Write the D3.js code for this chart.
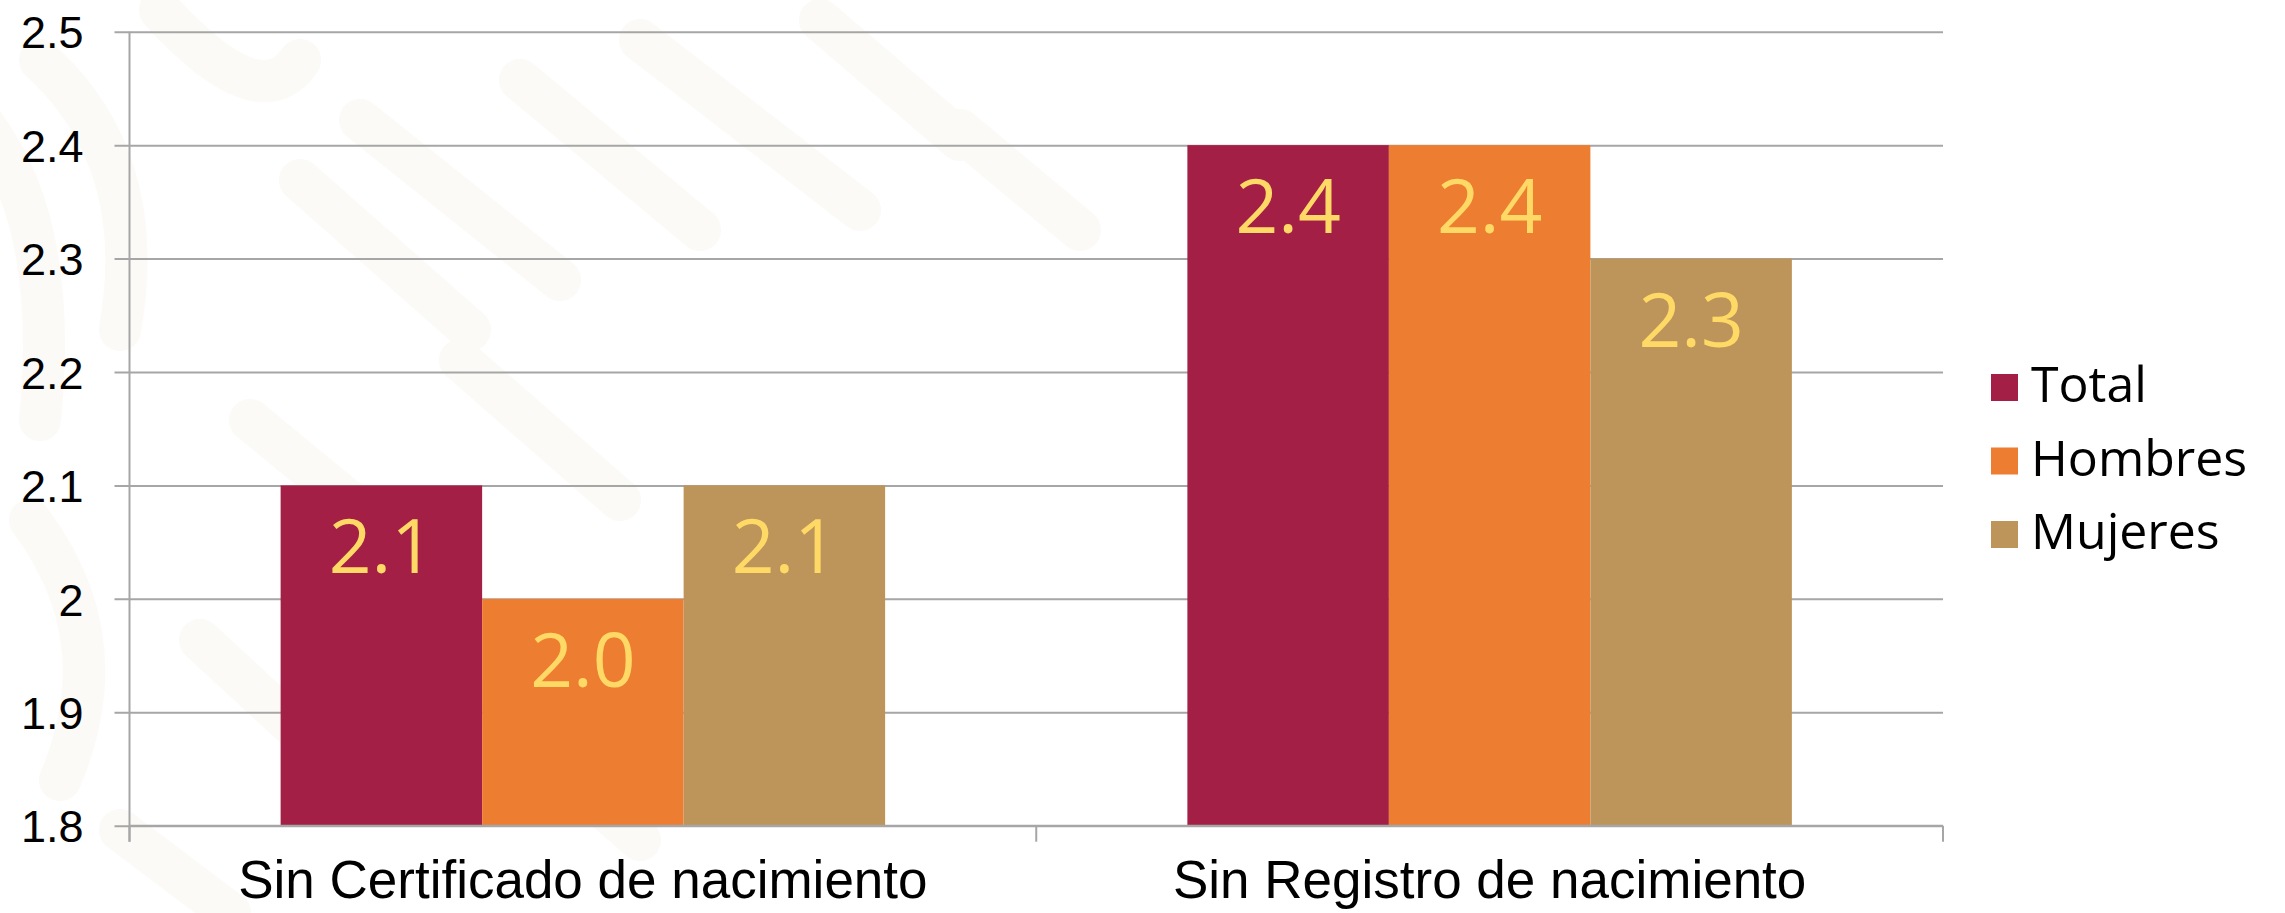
<!DOCTYPE html>
<html>
<head>
<meta charset="utf-8">
<script src="https://cdn.jsdelivr.net/npm/d3@7"></script>
<style>
  html, body { margin: 0; padding: 0; background: #fff; }
  svg { display: block; font-family: "Open Sans", sans-serif; }
</style>
</head>
<body>
<svg id="chart"></svg>
<script>
let width = 2285;
let height = 913;

// data
let categories = ['Sin Certificado de nacimiento', 'Sin Registro de nacimiento'];
let seriesNames = ['Total', 'Hombres', 'Mujeres'];
let totalValues = [2.1, 2.4];
let hombresValues = [2.0, 2.4];
let mujeresValues = [2.1, 2.3];
let yTicks = [1.8, 1.9, 2.0, 2.1, 2.2, 2.3, 2.4, 2.5];

let colors = ['#A31F45', '#ED7D31', '#BD955A'];
let labelColor = '#FFD966';
let gridColor = '#A6A6A6';

let plot = { left: 129.5, right: 1943, top: 31.7, bottom: 825.7 };

let svg = d3.select('#chart')
  .attr('width', width)
  .attr('height', height);

// faint watermark shapes in the background
let wm = svg.append('g').attr('fill', 'none').attr('stroke', '#f3ead9')
  .attr('stroke-linecap', 'round').attr('opacity', 0.22);
let strokes = [
  'M-20,120 Q60,220 40,420', 'M40,60 Q150,160 120,330', 'M160,10 Q260,120 300,60',
  'M300,180 L470,330', 'M360,120 L560,280', 'M520,80 L700,230', 'M640,40 L860,210',
  'M250,420 L420,560', 'M460,360 L620,500', 'M30,520 Q120,640 60,780',
  'M200,640 L330,760', 'M480,700 L640,840', 'M120,830 L230,913', 'M820,20 L960,140',
  'M960,130 L1080,230'
];
wm.selectAll('path').data(strokes).enter().append('path')
  .attr('d', d => d)
  .attr('stroke-width', 42);

let data = categories.map((c, i) => ({
  category: c,
  values: [totalValues[i], hombresValues[i], mujeresValues[i]]
}));

let x0 = d3.scaleBand()
  .domain(categories)
  .range([plot.left, plot.right])
  .padding(0);

let x1 = d3.scaleBand()
  .domain(seriesNames)
  .range([0, x0.bandwidth()])
  .paddingInner(0)
  .paddingOuter(0.75);

let y = d3.scaleLinear()
  .domain([1.8, 2.5])
  .range([plot.bottom, plot.top]);

// gridlines + y tick labels
let yAxis = d3.axisLeft(y)
  .tickValues(yTicks)
  .tickFormat(d => String(+d.toFixed(1)))
  .tickSize(-(plot.right - plot.left + 15))
  .tickPadding(31);

let yg = svg.append('g')
  .attr('transform', `translate(${plot.left - 15},0)`)
  .call(yAxis);
yg.select('.domain').remove();
yg.selectAll('.tick line')
  .attr('stroke', gridColor)
  .attr('stroke-width', 2);
yg.selectAll('.tick text')
  .attr('fill', '#000')
  .style('font-size', '45px')
  .attr('dy', '0.36em');

// bars
let groups = svg.append('g')
  .selectAll('g')
  .data(data)
  .enter()
  .append('g')
  .attr('transform', d => `translate(${x0(d.category)},0)`);

groups.selectAll('rect')
  .data(d => d.values.map((v, i) => ({ key: seriesNames[i], value: v, i })))
  .enter()
  .append('rect')
  .attr('x', d => x1(d.key))
  .attr('y', d => y(d.value))
  .attr('width', x1.bandwidth())
  .attr('height', d => y(1.8) - y(d.value))
  .attr('fill', d => colors[d.i]);

groups.selectAll('text')
  .data(d => d.values.map((v, i) => ({ key: seriesNames[i], value: v, i })))
  .enter()
  .append('text')
  .attr('x', d => x1(d.key) + x1.bandwidth() / 2)
  .attr('y', d => y(d.value) + 88)
  .attr('text-anchor', 'middle')
  .attr('fill', labelColor)
  .style('font-size', '75px')
  .text(d => d.value.toFixed(1));

// axes lines
svg.append('line')
  .attr('x1', plot.left).attr('x2', plot.left)
  .attr('y1', plot.top).attr('y2', plot.bottom + 16)
  .attr('stroke', gridColor).attr('stroke-width', 2);

svg.append('line')
  .attr('x1', plot.left).attr('x2', plot.right)
  .attr('y1', plot.bottom).attr('y2', plot.bottom)
  .attr('stroke', gridColor).attr('stroke-width', 2);

// category boundary ticks
let bounds = categories.map(c => x0(c)).concat([plot.right]);
svg.append('g')
  .selectAll('line')
  .data(bounds)
  .enter()
  .append('line')
  .attr('x1', d => d).attr('x2', d => d)
  .attr('y1', plot.bottom).attr('y2', plot.bottom + 16)
  .attr('stroke', gridColor).attr('stroke-width', 2);

// category labels
let xAxis = d3.axisBottom(x0).tickSize(0).tickPadding(0);
let xg = svg.append('g')
  .attr('transform', `translate(0,${plot.bottom})`)
  .call(xAxis);
xg.select('.domain').remove();
xg.selectAll('.tick text')
  .attr('fill', '#000')
  .attr('y', 72)
  .attr('dy', 0)
  .style('font-size', '53px');

// legend
let legend = svg.append('g')
  .attr('transform', 'translate(1991,374)');

let items = legend.selectAll('g')
  .data(seriesNames)
  .enter()
  .append('g')
  .attr('transform', (d, i) => `translate(0,${i * 73.5})`);

items.append('rect')
  .attr('width', 27)
  .attr('height', 27)
  .attr('fill', (d, i) => colors[i]);

items.append('text')
  .attr('x', 40)
  .attr('y', 28)
  .attr('fill', '#000')
  .style('font-size', '50px')
  .text(d => d);
</script>
</body>
</html>
